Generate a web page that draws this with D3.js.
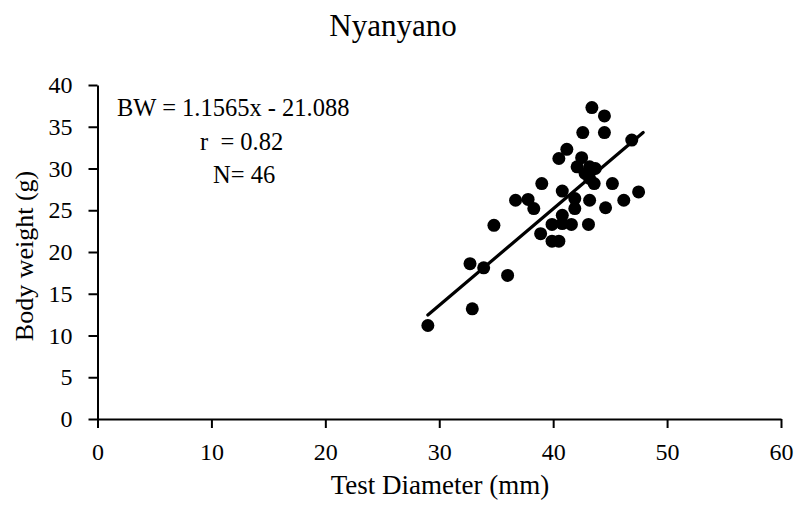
<!DOCTYPE html>
<html>
<head>
<meta charset="utf-8">
<script src="https://cdn.jsdelivr.net/npm/d3@7/dist/d3.min.js"></script>
<style>
  html, body { margin: 0; padding: 0; background: #fff; }
  svg { display: block; }
  text { font-family: "Liberation Serif", "Times New Roman", serif; fill: #000; }
</style>
</head>
<body>
<svg id="chart" width="799" height="506"></svg>
<script>
// Test diameter (mm) and body weight (g) of sea urchins sampled at Nyanyano
const testDiameter = [
  43.4, 44.5, 42.6, 44.5, 46.9, 41.2, 40.5, 42.5, 42.1, 43.2,
  43.7, 42.8, 43.2, 43.6, 39.0, 45.2, 40.8, 47.5, 36.7, 37.8,
  38.3, 41.9, 41.9, 43.2, 44.6, 46.2, 40.8, 39.9, 40.8, 41.6,
  43.1, 34.8, 38.9, 39.9, 40.5, 32.7, 33.9, 36.0, 32.9, 29.0
];
const bodyWeight = [
  37.3, 36.3, 34.3, 34.3, 33.4, 32.3, 31.2, 31.3, 30.2, 30.2,
  30.0, 29.4, 28.8, 28.2, 28.2, 28.2, 27.3, 27.2, 26.2, 26.3,
  25.2, 26.4, 25.2, 26.2, 25.3, 26.2, 24.4, 23.3, 23.4, 23.3,
  23.3, 23.2, 22.2, 21.3, 21.3, 18.6, 18.1, 17.2, 13.2, 11.2
];

// Fitted line: BW = slope * x + intercept
const slope = 1.1565;
const intercept = -21.088;
const fitRange = [29.0, 47.9];

const xTicks = [0, 10, 20, 30, 40, 50, 60];
const yTicks = [0, 5, 10, 15, 20, 25, 30, 35, 40];

const titleText = "Nyanyano";
const xLabel = "Test Diameter (mm)";
const yLabel = "Body weight (g)";
const statLines = ["BW = 1.1565x - 21.088", "r  = 0.82", "N= 46"];

const svg = d3.select("#chart");
const plot = { left: 97.5, right: 781, top: 85, bottom: 419 };

const x = d3.scaleLinear().domain([0, 60]).range([plot.left, plot.right]);
const y = d3.scaleLinear().domain([0, 40]).range([plot.bottom, plot.top]);

// Axes
const xAxis = svg.append("g")
  .attr("transform", `translate(0,${plot.bottom})`)
  .call(d3.axisBottom(x).tickValues(xTicks).tickSize(9).tickSizeOuter(0).tickPadding(9));
const yAxis = svg.append("g")
  .attr("transform", `translate(${plot.left},0)`)
  .call(d3.axisLeft(y).tickValues(yTicks).tickSize(9).tickSizeOuter(0).tickPadding(16));

[xAxis, yAxis].forEach(g => {
  g.select(".domain").attr("stroke", "#000").attr("stroke-width", 2);
  g.selectAll(".tick line").attr("stroke", "#000").attr("stroke-width", 2);
  g.selectAll(".tick text")
    .attr("font-family", "Liberation Serif, Times New Roman, serif")
    .attr("font-size", 24)
    .attr("fill", "#000");
});
xAxis.selectAll(".tick text").attr("dy", "0.95em");

// Points
svg.append("g").selectAll("circle")
  .data(testDiameter.map((d, i) => [d, bodyWeight[i]]))
  .join("circle")
  .attr("cx", d => x(d[0]))
  .attr("cy", d => y(d[1]))
  .attr("r", 6.5)
  .attr("fill", "#000");

// Regression line
svg.append("line")
  .attr("x1", x(fitRange[0])).attr("y1", y(slope * fitRange[0] + intercept))
  .attr("x2", x(fitRange[1])).attr("y2", y(slope * fitRange[1] + intercept))
  .attr("stroke", "#000").attr("stroke-width", 3.2).attr("stroke-linecap", "round");

// Title
svg.append("text")
  .attr("x", 393).attr("y", 36)
  .attr("text-anchor", "middle")
  .attr("font-size", 31)
  .text(titleText);

// Axis titles
svg.append("text")
  .attr("x", 440).attr("y", 494)
  .attr("text-anchor", "middle")
  .attr("font-size", 27)
  .text(xLabel);

svg.append("text")
  .attr("transform", `translate(33,256) rotate(-90)`)
  .attr("text-anchor", "middle")
  .attr("font-size", 26)
  .text(yLabel);

// Regression statistics
const statPos = [[117, 116], [200, 150], [213, 183]];
svg.append("g").selectAll("text")
  .data(statLines)
  .join("text")
  .attr("x", (d, i) => statPos[i][0])
  .attr("y", (d, i) => statPos[i][1])
  .attr("font-size", 24.5)
  .attr("xml:space", "preserve")
  .style("white-space", "pre")
  .text(d => d);
</script>
</body>
</html>
